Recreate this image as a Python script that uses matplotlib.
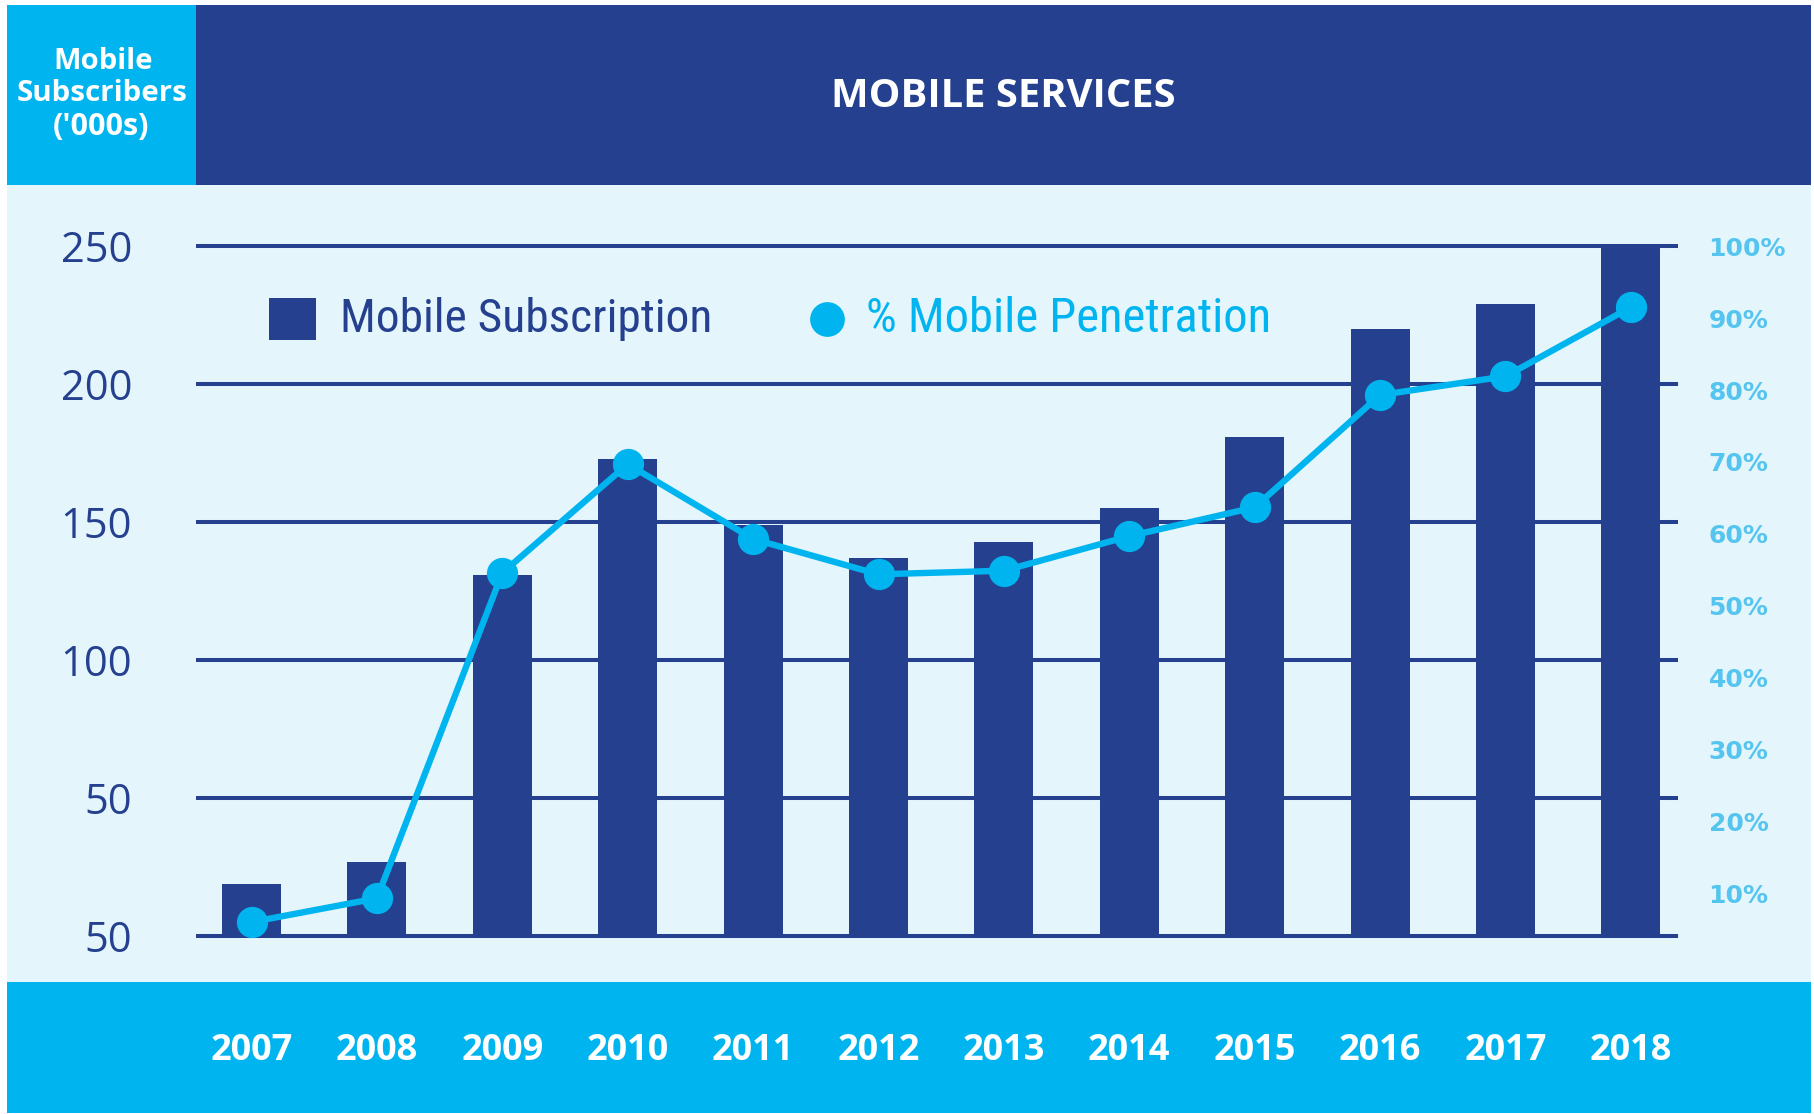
import matplotlib
matplotlib.use("Agg")
import matplotlib.pyplot as plt
from matplotlib.patches import Rectangle
from matplotlib.lines import Line2D
from matplotlib.transforms import blended_transform_factory
from matplotlib import font_manager

# ---- data ----
years = ["2007", "2008", "2009", "2010", "2011", "2012",
         "2013", "2014", "2015", "2016", "2017", "2018"]
subscribers = [19, 27, 131, 173, 149, 137, 143, 155, 181, 220, 229, 250]
penetration = [6.1, 9.4, 54.6, 69.7, 59.3, 54.4, 54.9, 59.7, 63.7, 79.3, 81.9, 91.5]
left_ticks = [0, 50, 100, 150, 200, 250]
left_labels = ["50", "50", "100", "150", "200", "250"]
right_ticks = [10, 20, 30, 40, 50, 60, 70, 80, 90, 100]
right_labels = ["10%", "20%", "30%", "40%", "50%", "60%", "70%", "80%", "90%", "100%"]
title = "MOBILE SERVICES"
corner_lines = ["Mobile", "Subscribers", "('000s)"]
legend_labels = ["Mobile Subscription", "% Mobile Penetration"]

NAVY = "#24408e"
CYAN = "#00b5ef"
LIGHT = "#e4f5fc"
RLAB = "#55c5ef"

avail = {f.name for f in font_manager.fontManager.ttflist}


def pick(cands):
    for c in cands:
        if c in avail:
            return c
    return "DejaVu Sans"


OPEN = pick(["Open Sans", "Lato"])
COND = pick(["Roboto Condensed", "Open Sans Condensed", "Liberation Sans Narrow", "Open Sans"])
plt.rcParams["font.family"] = [OPEN, "DejaVu Sans"]

W, H = 1815, 1114
fig = plt.figure(figsize=(W / 100, H / 100), dpi=100, facecolor="white")
renderer = fig.canvas.get_renderer()


def fx(x):
    return x / W


def fy(y):
    return 1 - y / H


def frect(x0, y0, x1, y1, color):
    fig.patches.append(Rectangle((fx(x0), fy(y1)), fx(x1) - fx(x0), fy(y0) - fy(y1),
                                 transform=fig.transFigure, facecolor=color,
                                 edgecolor="none", zorder=-10))


def fit_text(x, y, s, width_px, ha="center", va="baseline", **kw):
    t = fig.text(fx(x), fy(y), s, ha=ha, va=va, fontsize=10, **kw)
    w = t.get_window_extent(renderer).width
    t.set_fontsize(10 * width_px / w)
    return t


frect(7, 5, 196, 185, CYAN)
frect(196, 5, 1811, 185, NAVY)
frect(7, 185, 1811, 982, LIGHT)
frect(7, 982, 1811, 1113, CYAN)

# corner text (baselines)
fit_text(103, 69, corner_lines[0], 100, color="white", fontweight="bold",
         family=[OPEN, "DejaVu Sans"])
fit_text(102, 101, corner_lines[1], 171, color="white", fontweight="bold",
         family=[OPEN, "DejaVu Sans"])
fit_text(101, 135, corner_lines[2], 97, color="white", fontweight="bold",
         family=[OPEN, "DejaVu Sans"])
fit_text(1003, 107, title, 343, color="white", fontweight="bold",
         family=[OPEN, "DejaVu Sans"])

# ---- axes ----
ax_l, ax_r, ax_t, ax_b = 196, 1678, 200, 960
ax = fig.add_axes([fx(ax_l), fy(ax_b), fx(ax_r) - fx(ax_l), fy(ax_t) - fy(ax_b)])
ax.patch.set_alpha(0)
x = list(range(len(years)))
ax.bar(x, subscribers, width=0.47, color=NAVY, zorder=2)
ax.set_xlim(-0.443, 11.376)
ax.set_ylim(-8.7, 266.8)
ax.set_yticks(left_ticks)
ax.set_yticklabels(left_labels)
ax.yaxis.grid(True, color=NAVY, linewidth=2.9, zorder=1)
ax.set_axisbelow(True)
ax.tick_params(axis="y", length=0, pad=46, labelsize=30, labelcolor=NAVY)
ax.set_xticks([])
for s in ax.spines.values():
    s.set_visible(False)

trans = blended_transform_factory(ax.transData, fig.transFigure)
for xi, yr in zip(x, years):
    ax.text(xi, fy(1060), yr, transform=trans, ha="center", va="baseline",
            color="white", fontsize=26, fontweight="bold", clip_on=False)

ax2 = ax.twinx()
ax2.plot(x, penetration, color=CYAN, linewidth=4.6, marker="o", markersize=21.5,
         zorder=5, clip_on=False)
ax2.set_ylim(0.83, 106.39)
ax2.set_yticks(right_ticks)
ax2.set_yticklabels(right_labels)
ax2.tick_params(axis="y", length=0, pad=22, labelsize=18, labelcolor=RLAB)
for lab in ax2.get_yticklabels():
    lab.set_fontweight("bold")
    lab.set_family(["DejaVu Sans"])
for s in ax2.spines.values():
    s.set_visible(False)

# ---- legend ----
frect(269, 298, 316, 340, NAVY)
fit_text(340, 332, legend_labels[0], 372, ha="left", color=NAVY,
         family=[COND, "DejaVu Sans"])
fig.lines.append(Line2D([fx(827)], [fy(319)], transform=fig.transFigure,
                        marker="o", markersize=24, color=CYAN, linestyle="none"))
fit_text(866, 332, legend_labels[1], 404, ha="left", color=CYAN,
         family=[COND, "DejaVu Sans"])

fig.savefig("out.png", dpi=100, facecolor="white")
